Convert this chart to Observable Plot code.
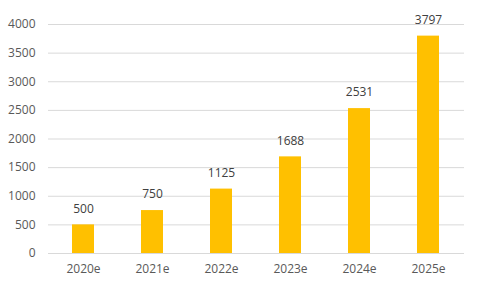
<!DOCTYPE html>
<html>
<head>
<meta charset="utf-8">
<script src="https://cdn.jsdelivr.net/npm/d3@7"></script>
<script src="https://cdn.jsdelivr.net/npm/@observablehq/plot@0.6"></script>
<style>
  html, body { margin: 0; padding: 0; background: #fff; }
  #chart svg { display: block; }
</style>
</head>
<body>
<div id="chart"></div>
<script>
const years = ["2020e", "2021e", "2022e", "2023e", "2024e", "2025e"];
const values = [500, 750, 1125, 1688, 2531, 3797];
const yTicks = [0, 500, 1000, 1500, 2000, 2500, 3000, 3500, 4000];

const data = years.map((y, i) => ({year: y, value: values[i]}));

const chart = Plot.plot({
  width: 477,
  height: 291,
  marginLeft: 48,
  marginRight: 13,
  marginTop: 24,
  marginBottom: 38,
  style: {fontFamily: "'Open Sans', sans-serif", fontSize: "12px", color: "#595959", background: "#fff"},
  x: {domain: years, paddingInner: 0.68, paddingOuter: 0.34, label: null, tickSize: 0, tickPadding: 11},
  y: {domain: [0, 4000], ticks: yTicks, tickFormat: d3.format("d"), label: null, tickSize: 0, tickPadding: 13},
  marks: [
    Plot.ruleY(yTicks, {stroke: "#d9d9d9", strokeWidth: 1}),
    Plot.barY(data, {x: "year", y: "value", fill: "#FFC000"}),
    Plot.text(data, {x: "year", y: "value", text: d => String(d.value), dy: -16, fill: "#404040", fontSize: 12})
  ]
});
document.getElementById("chart").appendChild(chart);
</script>
</body>
</html>
